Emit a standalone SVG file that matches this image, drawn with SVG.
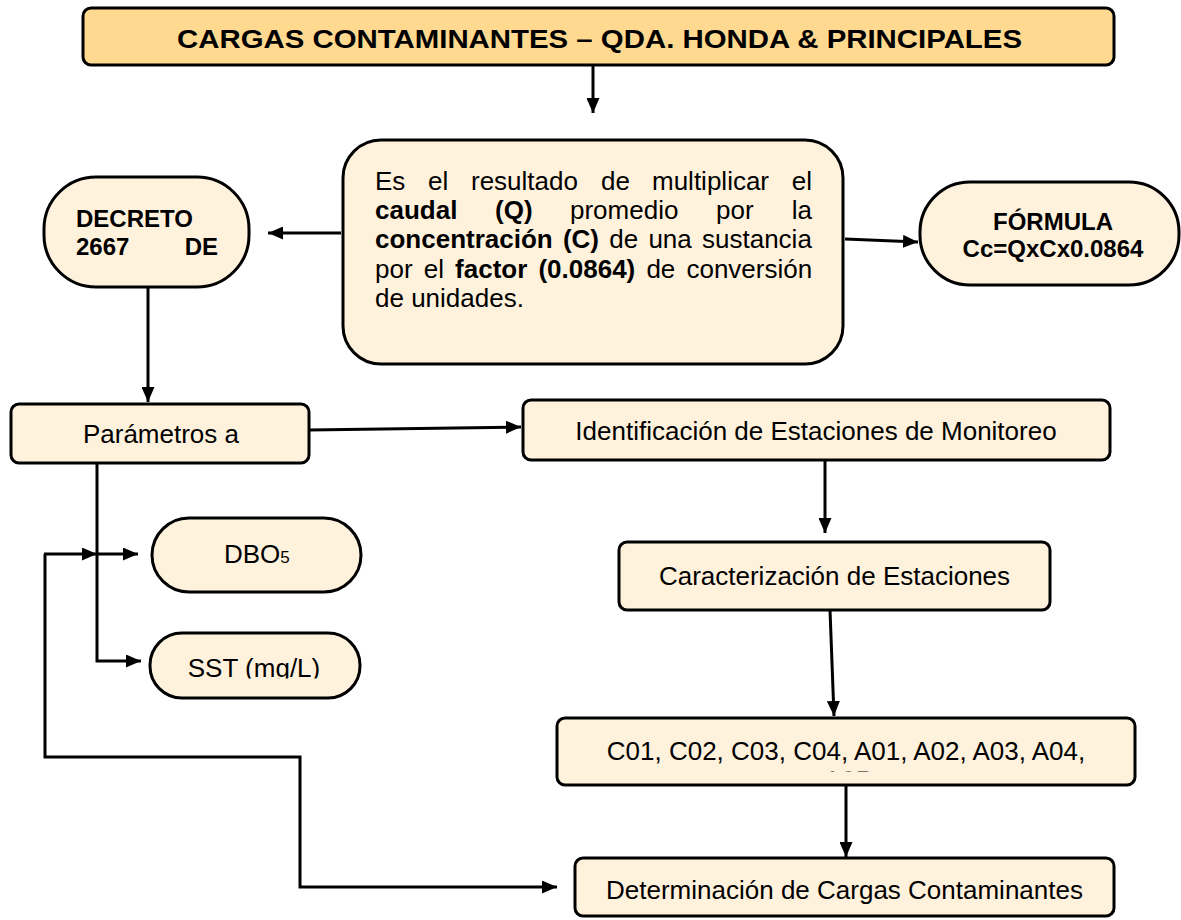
<svg xmlns="http://www.w3.org/2000/svg" width="1181" height="920" viewBox="0 0 1181 920">
<style>
.box{fill:#FFF2DC;stroke:#000;stroke-width:3}
.title{fill:#FFD98F;stroke:#000;stroke-width:3}
.t{font-family:"Liberation Sans",Arial,sans-serif;font-size:26px;fill:#000}
.b{font-weight:bold}
.c{text-anchor:middle}
.e{text-anchor:end}
.ln{fill:none;stroke:#000;stroke-width:3}
</style>
<defs>
<marker id="ah" markerUnits="userSpaceOnUse" markerWidth="15" markerHeight="13" refX="15" refY="6.5" orient="auto">
<path d="M0,0 L15,6.5 L0,13 z" fill="#000"/>
</marker>
<clipPath id="clipC01"><rect x="557" y="718" width="578" height="53.5"/></clipPath>
<clipPath id="clipSST"><rect x="150" y="633" width="210" height="45.5"/></clipPath>
</defs>

<g id="connectors">
<line class="ln" x1="593" y1="64" x2="593" y2="113" marker-end="url(#ah)"/>
<line class="ln" x1="341" y1="233" x2="268" y2="233" marker-end="url(#ah)"/>
<line class="ln" x1="845" y1="239" x2="918" y2="242" marker-end="url(#ah)"/>
<line class="ln" x1="148" y1="287" x2="148" y2="402" marker-end="url(#ah)"/>
<line class="ln" x1="309" y1="430" x2="521" y2="427" marker-end="url(#ah)"/>
<line class="ln" x1="825" y1="460" x2="825" y2="533" marker-end="url(#ah)"/>
<line class="ln" x1="830" y1="610" x2="834" y2="716" marker-end="url(#ah)"/>
<line class="ln" x1="846" y1="785" x2="846" y2="857" marker-end="url(#ah)"/>
<polyline class="ln" points="97,463 97,661 141,661" marker-end="url(#ah)"/>
<line class="ln" x1="97" y1="554" x2="138" y2="554" marker-end="url(#ah)"/>
<line class="ln" x1="44" y1="554" x2="97" y2="554" marker-end="url(#ah)"/>
<polyline class="ln" points="45,554 45,757 300,757 300,887 557,887" marker-end="url(#ah)"/>
</g>

<g id="n-title">
<rect class="title" x="83" y="8" width="1031" height="57" rx="8"/>
<text class="t b c" x="599.5" y="48" textLength="845" lengthAdjust="spacingAndGlyphs">CARGAS CONTAMINANTES – QDA. HONDA &amp; PRINCIPALES</text>
</g>

<g id="n-definicion">
<rect class="box" x="343" y="140" width="500" height="224" rx="38"/>
<text class="t" y="190"><tspan x="375">Es</tspan><tspan x="428">el</tspan><tspan x="471">resultado</tspan><tspan x="601">de</tspan><tspan x="652">multiplicar</tspan><tspan x="812" text-anchor="end">el</tspan></text>
<text class="t" y="219"><tspan x="375" class="b">caudal</tspan><tspan x="495" class="b">(Q)</tspan><tspan x="570">promedio</tspan><tspan x="716">por</tspan><tspan x="812" text-anchor="end">la</tspan></text>
<text class="t" x="375" y="248" word-spacing="3"><tspan class="b">concentración (C)</tspan> de una sustancia</text>
<text class="t" x="375" y="278" word-spacing="3.9">por el <tspan class="b">factor (0.0864)</tspan> de conversión</text>
<text class="t" x="375" y="307">de unidades.</text>
</g>

<g id="n-decreto">
<rect class="box" x="44" y="177" width="205" height="110" rx="52"/>
<text class="t b" style="font-size:24px" x="76" y="227">DECRETO</text>
<text class="t b" style="font-size:24px" x="76" y="255">2667</text>
<text class="t b e" style="font-size:24px" x="218" y="255">DE</text>
</g>

<g id="n-formula">
<rect class="box" x="920" y="182" width="259" height="103" rx="50"/>
<text class="t b c" style="font-size:24px" x="1053" y="230">FÓRMULA</text>
<text class="t b c" style="font-size:24px" x="1053" y="257">Cc=QxCx0.0864</text>
</g>

<g id="n-parametros">
<rect class="box" x="11" y="404" width="298" height="59" rx="8"/>
<text class="t c" x="161" y="443">Parámetros a</text>
</g>

<g id="n-identificacion">
<rect class="box" x="523" y="400" width="587" height="60" rx="8"/>
<text class="t c" x="816" y="440">Identificación de Estaciones de Monitoreo</text>
</g>

<g id="n-caracterizacion">
<rect class="box" x="619" y="542" width="431" height="68" rx="8"/>
<text class="t c" x="834.5" y="585">Caracterización de Estaciones</text>
</g>

<g id="n-estaciones">
<rect class="box" x="557" y="718" width="578" height="67" rx="8"/>
<g clip-path="url(#clipC01)">
<text class="t c" x="846" y="760">C01, C02, C03, C04, A01, A02, A03, A04,</text>
<text class="t c" x="847" y="788.5">A05</text>
</g>
</g>

<g id="n-determinacion">
<rect class="box" x="575" y="858" width="539" height="58" rx="8"/>
<text class="t c" x="844.5" y="899">Determinación de Cargas Contaminantes</text>
</g>

<g id="n-dbo5">
<rect class="box" x="152" y="518" width="209" height="74" rx="37"/>
<text class="t" x="224" y="563">DBO<tspan style="font-size:17px">5</tspan></text>
</g>

<g id="n-sst">
<rect class="box" x="150" y="633" width="210" height="65" rx="32"/>
<g clip-path="url(#clipSST)">
<text class="t c" x="254" y="677">SST (mg/L)</text>
</g>
</g>
</svg>
